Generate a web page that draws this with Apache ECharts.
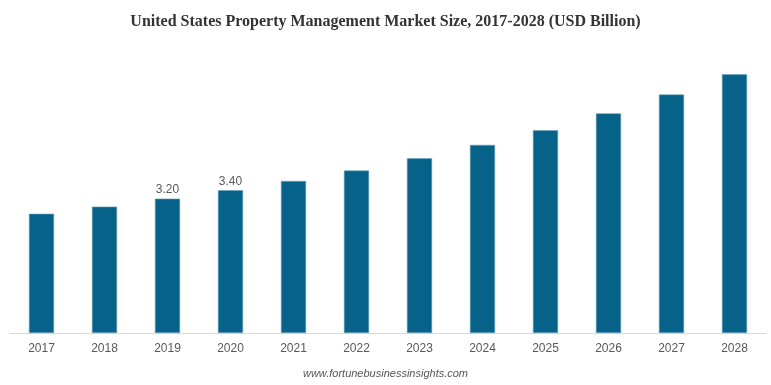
<!DOCTYPE html>
<html>
<head>
<meta charset="utf-8">
<script src="https://cdn.jsdelivr.net/npm/echarts@6/dist/echarts.min.js"></script>
<style>html,body{margin:0;padding:0;background:#fff}#c{width:771px;height:385px}</style>
</head>
<body>
<div id="c"></div>
<script>
const categories = ['2017','2018','2019','2020','2021','2022','2023','2024','2025','2026','2027','2028'];
const values = [2.84, 3.01, 3.20, 3.40, 3.62, 3.87, 4.16, 4.48, 4.83, 5.23, 5.68, 6.16];
const labeledYears = ['2019','2020'];
const titleText = 'United States Property Management Market Size, 2017-2028 (USD Billion)';
const footerText = 'www.fortunebusinessinsights.com';

const chart = echarts.init(document.getElementById('c'));
chart.setOption({
  animation: false,
  title: {
    text: titleText, left: 'center', top: 9,
    textStyle: { fontFamily: 'Liberation Serif', fontSize: 16, fontWeight: 'bold', color: '#333' }
  },
  graphic: [{
    type: 'text', left: 'center', top: 368,
    style: { text: footerText, font: 'italic 11px "Liberation Sans"', fill: '#555' }
  }],
  grid: { left: 10, right: 5, top: 39, bottom: 52, containLabel: false },
  xAxis: {
    type: 'category', data: categories,
    axisLine: { lineStyle: { color: '#d9d9d9', width: 1 } },
    axisTick: { show: false },
    axisLabel: { color: '#595959', fontSize: 12, fontFamily: 'Liberation Sans', margin: 10 }
  },
  yAxis: { type: 'value', min: 0, max: 7, show: false, splitLine: { show: false } },
  series: [{
    type: 'bar', barCategoryGap: '60%',
    data: values.map((v, i) => ({
      value: v,
      label: { show: labeledYears.includes(categories[i]) }
    })),
    itemStyle: { color: '#066289', borderColor: '#6fa6c0', borderWidth: 0.6 },
    label: { position: 'top', color: '#595959', fontSize: 12, fontFamily: 'Liberation Sans', distance: 3,
      formatter: p => p.value.toFixed(2) }
  }]
});
</script>
</body>
</html>
